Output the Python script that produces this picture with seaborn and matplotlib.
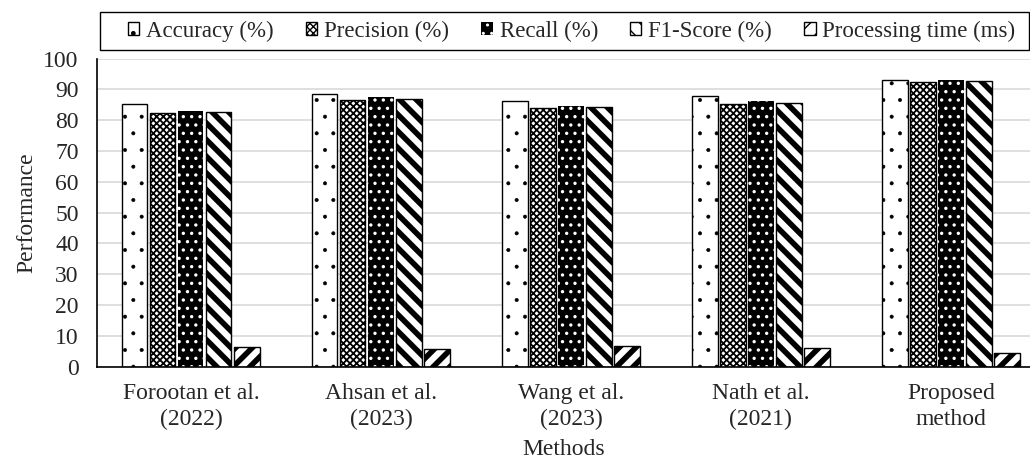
import matplotlib
matplotlib.use("Agg")
import matplotlib.pyplot as plt
from matplotlib.patches import Rectangle
import pandas as pd
import seaborn as sns

# data
methods = ["Forootan et al.\n(2022)", "Ahsan et al.\n(2023)", "Wang et al.\n(2023)",
           "Nath et al.\n(2021)", "Proposed\nmethod"]
metrics = ["Accuracy (%)", "Precision (%)", "Recall (%)", "F1-Score (%)", "Processing time (ms)"]
accuracy = [85.2, 88.5, 86.4, 88.0, 93.0]
precision = [82.5, 86.7, 84.0, 85.3, 92.5]
recall = [83.1, 87.4, 84.5, 86.2, 93.0]
f1_score = [82.7, 87.0, 84.3, 85.6, 92.8]
proc_time = [6.3, 5.7, 6.6, 6.1, 4.3]

rows = []
for name, vals in zip(metrics, [accuracy, precision, recall, f1_score, proc_time]):
    for m, v in zip(methods, vals):
        rows.append({"Methods": m, "Metric": name, "Performance": v})
df = pd.DataFrame(rows)

sns.set_style("white")
plt.rcParams["font.family"] = ["Liberation Serif", "DejaVu Serif"]
plt.rcParams["hatch.linewidth"] = 1.0

fig = plt.figure(figsize=(10.3, 4.65), dpi=100)
ax = fig.add_axes([0.094, 0.2114, 0.906, 0.6624])

faces = {"Accuracy (%)": "white", "Precision (%)": "white", "Recall (%)": "black",
         "F1-Score (%)": "white", "Processing time (ms)": "white"}
sns.barplot(data=df, x="Methods", y="Performance", hue="Metric", order=methods,
            hue_order=metrics, palette=faces, width=0.737, gap=0.1, legend=False, ax=ax)

# hatch, edge colour, edge width, hatch width
styles = [(".", "black", 1.0, 0.4),
          ("xxxxx", "black", 1.0, 1.3),
          ("..", "white", 0.0, 1.2),
          ("\\\\", "black", 1.0, 4.0),
          ("//", "black", 1.0, 4.0)]
for cont, (h, ec, lw, hlw) in zip(ax.containers, styles):
    for p in cont.patches:
        p.set_hatch(h)
        p.set_edgecolor(ec)
        p.set_linewidth(lw)
        if hasattr(p, "set_hatch_linewidth"):
            p.set_hatch_linewidth(hlw)

ax.set_ylim(0, 100)
ax.set_yticks(range(0, 101, 10))
ax.set_xlim(-0.495, 4.416)
ax.yaxis.grid(True, color="#d9d9d9", lw=1.2)
ax.set_axisbelow(True)
for s in ["top", "right"]:
    ax.spines[s].set_visible(False)
for s in ["left", "bottom"]:
    ax.spines[s].set_color("black")
    ax.spines[s].set_linewidth(1.2)
ax.tick_params(axis="y", length=0, pad=13, labelsize=17)
ax.tick_params(axis="x", length=0, pad=12, labelsize=17)
for t in ax.get_xticklabels():
    t.set_linespacing(1.3)
ax.set_ylabel("Performance", fontsize=17, labelpad=4)
ax.set_xlabel("Methods", fontsize=17, labelpad=6)

# legend box across the top, entries at their natural widths
fig.patches.append(Rectangle((0.097, 0.8925), 0.902, 0.0815, transform=fig.transFigure,
                             fill=False, edgecolor="black", lw=1.0))
leg = fig.legend(ax.containers, metrics, loc="center left", ncol=5,
                 bbox_to_anchor=(0.124, 0.933),
                 fontsize=16.5, handlelength=0.5, handleheight=0.5, handletextpad=0.3,
                 columnspacing=1.4, frameon=False, borderaxespad=0, borderpad=0)

fig.savefig("out.png", dpi=100)
